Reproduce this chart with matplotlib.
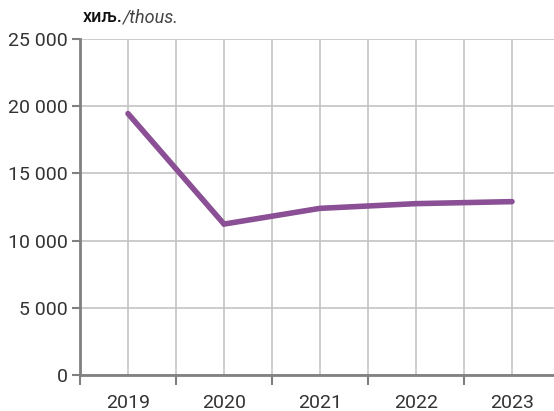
import matplotlib.pyplot as plt
from matplotlib.ticker import FuncFormatter, FixedLocator

years = ["2019", "2020", "2021", "2022", "2023"]
values = [19450, 11230, 12400, 12750, 12900]
y_ticks = [0, 5000, 10000, 15000, 20000, 25000]

plt.rcParams['font.family'] = ['Roboto', 'DejaVu Sans']

fig = plt.figure(figsize=(5.54, 4.11), dpi=100)
W, H = 554, 411
ax = fig.add_axes([80 / W, (H - 375) / H, 480 / W, 336 / H])

x = list(range(len(years)))
ax.plot(x, values, color='#8a4f94', lw=4, solid_capstyle='round',
        solid_joinstyle='miter', zorder=3)

ax.set_xlim(-0.5, len(years) - 0.5)
ax.set_ylim(0, 25000)

# category labels at centres, tick marks at boundaries
bounds = [i - 0.5 for i in range(len(years) + 1)]
ax.set_xticks(x)
ax.set_xticklabels(years)
ax.tick_params(axis='x', which='major', length=0, pad=14, labelsize=14,
               labelcolor='#333333')
ax.xaxis.set_minor_locator(FixedLocator(bounds))
ax.tick_params(axis='x', which='minor', length=7, width=1.5, color='#808080')

ax.set_yticks(y_ticks)
ax.yaxis.set_major_formatter(FuncFormatter(lambda v, p: f"{int(v):,}".replace(",", " ")))
ax.tick_params(axis='y', length=6, width=1.5, color='#808080', pad=3,
               labelsize=14, labelcolor='#333333')

for xv in x + bounds:
    ax.axvline(xv, color='#c4c4c4', lw=1.2, zorder=1)
for yv in y_ticks:
    ax.axhline(yv, color='#c4c4c4', lw=1.2, zorder=1)

for s in ['top', 'right']:
    ax.spines[s].set_visible(False)
for s in ['left', 'bottom']:
    ax.spines[s].set_color('#808080')
    ax.spines[s].set_linewidth(2)
    ax.spines[s].set_zorder(4)

t1 = fig.text(83 / W, 1 - 17 / H, "хиљ.", fontsize=13, fontweight='medium',
              va='center', ha='left', color='#111111')
fig.canvas.draw()
bb = t1.get_window_extent()
fig.text(bb.x1 / W, 1 - 17 / H, "/thous.", fontsize=13, style='italic',
         va='center', ha='left', color='#444444')

fig.savefig("out.png", dpi=100)
